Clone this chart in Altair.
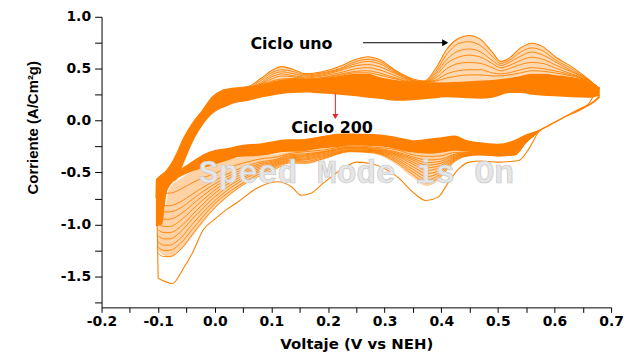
import altair as alt
import pandas as pd

ORANGE = "#FF8000"

# ---------------- data ----------------
# Outermost voltammogram (cycle 1), closed loop in scan order (V vs NEH, A/cm2 g)
cycle1_v = [-0.100, -0.101, -0.102, -0.104, -0.103, -0.085, -0.075, -0.065, -0.057, -0.040,
            -0.022, -0.005, 0.013, 0.030, 0.060, 0.080, 0.100, 0.118, 0.140, 0.160,
            0.190, 0.220, 0.250, 0.270, 0.290, 0.320, 0.350, 0.370, 0.390, 0.410,
            0.430, 0.449, 0.470, 0.490, 0.505, 0.520, 0.540, 0.560, 0.580, 0.600,
            0.630, 0.660, 0.680,
            0.660, 0.620, 0.590, 0.572, 0.555, 0.537, 0.500, 0.470, 0.450, 0.430,
            0.411, 0.394, 0.373, 0.353, 0.323, 0.280, 0.250, 0.230, 0.190, 0.170,
            0.153, 0.136, 0.110, 0.072, 0.042, 0.020, 0.000, -0.020, -0.040, -0.055,
            -0.075, -0.100]
cycle1_i = [-1.52, -1.20, -0.95, -0.75, -0.58, -0.48, -0.40, -0.29, -0.19, -0.03,
            0.096, 0.224, 0.29, 0.31, 0.33, 0.40, 0.48, 0.52, 0.49, 0.45,
            0.47, 0.52, 0.59, 0.615, 0.59, 0.48, 0.40, 0.38, 0.50, 0.69,
            0.79, 0.82, 0.78, 0.66, 0.57, 0.60, 0.70, 0.745, 0.71, 0.62,
            0.52, 0.40, 0.31,
            0.16, 0.04, -0.05, -0.11, -0.27, -0.385, -0.40, -0.39, -0.40, -0.47,
            -0.61, -0.74, -0.77, -0.705, -0.545, -0.42, -0.40, -0.45, -0.61, -0.70,
            -0.72, -0.64, -0.59, -0.66, -0.78, -0.86, -0.95, -1.05, -1.28, -1.42,
            -1.57, -1.52]

# Anodic branch: dense band of late cycles and the fan of early cycles above it
up_v = [0.013, 0.030, 0.060, 0.080, 0.100, 0.118, 0.140, 0.160, 0.190, 0.220,
        0.250, 0.270, 0.290, 0.320, 0.350, 0.370, 0.390, 0.410, 0.430, 0.449,
        0.470, 0.490, 0.505, 0.520, 0.540, 0.560, 0.580, 0.600, 0.630, 0.660, 0.680]
up_fan = [0.29, 0.31, 0.33, 0.40, 0.48, 0.52, 0.49, 0.45, 0.47, 0.52,
          0.59, 0.615, 0.59, 0.48, 0.40, 0.38, 0.50, 0.69, 0.79, 0.82,
          0.78, 0.66, 0.57, 0.60, 0.70, 0.745, 0.71, 0.62, 0.52, 0.40, 0.31]
up_top = [0.29, 0.31, 0.32, 0.34, 0.37, 0.39, 0.40, 0.40, 0.41, 0.43,
          0.45, 0.45, 0.42, 0.39, 0.37, 0.37, 0.37, 0.37, 0.375, 0.38,
          0.385, 0.39, 0.40, 0.41, 0.43, 0.45, 0.45, 0.44, 0.42, 0.38, 0.31]
up_bot = [0.12, 0.16, 0.19, 0.22, 0.24, 0.256, 0.265, 0.27, 0.26, 0.25,
          0.235, 0.22, 0.21, 0.19, 0.195, 0.205, 0.215, 0.224, 0.22, 0.215,
          0.21, 0.22, 0.245, 0.265, 0.265, 0.25, 0.24, 0.235, 0.225, 0.22, 0.24]

# Separate early-cycle traces visible in the anodic fan (outer to inner)
up_cycA = [0.29, 0.30, 0.32, 0.38, 0.46, 0.49, 0.47, 0.44, 0.46, 0.50, 0.57, 0.59, 0.57, 0.47, 0.39, 0.375,
           0.47, 0.64, 0.74, 0.76, 0.72, 0.62, 0.55, 0.58, 0.66, 0.70, 0.67, 0.59, 0.50, 0.39, 0.31]
up_cycB = [0.29, 0.30, 0.32, 0.36, 0.44, 0.47, 0.45, 0.43, 0.45, 0.49, 0.55, 0.57, 0.55, 0.46, 0.385, 0.37,
           0.45, 0.59, 0.67, 0.69, 0.66, 0.58, 0.53, 0.56, 0.62, 0.66, 0.63, 0.57, 0.48, 0.39, 0.31]
up_cycC = [0.29, 0.30, 0.32, 0.35, 0.42, 0.45, 0.43, 0.42, 0.44, 0.48, 0.53, 0.54, 0.52, 0.45, 0.38, 0.37,
           0.43, 0.55, 0.61, 0.63, 0.61, 0.55, 0.51, 0.53, 0.58, 0.61, 0.59, 0.54, 0.47, 0.39, 0.31]
up_cycD = [0.29, 0.30, 0.32, 0.345, 0.40, 0.43, 0.42, 0.41, 0.43, 0.46, 0.50, 0.51, 0.49, 0.43, 0.375, 0.37,
           0.41, 0.50, 0.55, 0.56, 0.55, 0.51, 0.48, 0.50, 0.54, 0.56, 0.55, 0.51, 0.45, 0.385, 0.31]
up_cycE = [0.29, 0.30, 0.32, 0.34, 0.38, 0.40, 0.405, 0.40, 0.415, 0.445, 0.475, 0.48, 0.46, 0.41, 0.37, 0.37,
           0.39, 0.45, 0.48, 0.49, 0.49, 0.46, 0.45, 0.46, 0.49, 0.51, 0.50, 0.48, 0.44, 0.38, 0.31]
up_cycF = [0.29, 0.30, 0.32, 0.34, 0.37, 0.39, 0.40, 0.40, 0.41, 0.435, 0.46, 0.46, 0.44, 0.40, 0.37, 0.37,
           0.38, 0.41, 0.43, 0.44, 0.44, 0.43, 0.43, 0.44, 0.46, 0.48, 0.475, 0.46, 0.43, 0.38, 0.31]

# Left arm (current rising after the reversal at -0.1 V)
arm_v = [-0.104, -0.093, -0.085, -0.075, -0.065, -0.057, -0.040, -0.022, -0.005, 0.005, 0.013, 0.030]
arm_top = [-0.56, -0.52, -0.48, -0.40, -0.29, -0.19, -0.03, 0.096, 0.224, 0.27, 0.29, 0.31]
arm_bot = [-1.02, -1.00, -0.70, -0.60, -0.55, -0.44, -0.22, -0.05, 0.06, 0.10, 0.12, 0.16]

# Cathodic branch: dense band and the fan of early cycles below it
low_v = [-0.100, -0.075, -0.063, -0.045, -0.028, -0.010, 0.030, 0.042, 0.080, 0.130,
         0.148, 0.188, 0.218, 0.241, 0.280, 0.306, 0.340, 0.353, 0.376, 0.400,
         0.423, 0.446, 0.470, 0.499, 0.528, 0.552, 0.572, 0.587, 0.620, 0.645,
         0.669, 0.680]
low_top = [-0.58, -0.55, -0.48, -0.41, -0.35, -0.30, -0.256, -0.24, -0.22, -0.18,
           -0.18, -0.15, -0.128, -0.125, -0.13, -0.144, -0.18, -0.19, -0.176, -0.16,
           -0.144, -0.19, -0.21, -0.224, -0.19, -0.128, -0.09, -0.048, 0.05, 0.12,
           0.19, 0.25]
low_bot = [-0.62, -0.58, -0.545, -0.50, -0.47, -0.44, -0.37, -0.35, -0.34, -0.30,
           -0.30, -0.27, -0.255, -0.24, -0.245, -0.256, -0.30, -0.31, -0.32, -0.31,
           -0.29, -0.30, -0.31, -0.33, -0.32, -0.20, -0.11, -0.06, 0.04, 0.10,
           0.17, 0.22]

lfan_v = [-0.100, -0.090, -0.080, -0.060, -0.040, -0.020, 0.000, 0.020, 0.050, 0.080,
          0.110, 0.130, 0.160, 0.190, 0.240, 0.280, 0.320, 0.350, 0.375, 0.400,
          0.420, 0.440, 0.470, 0.500, 0.530, 0.550, 0.570]
lfan_top = [-1.00, -0.90, -0.65, -0.56, -0.49, -0.45, -0.42, -0.38, -0.35, -0.34,
            -0.32, -0.30, -0.29, -0.27, -0.24, -0.245, -0.27, -0.31, -0.32, -0.31,
            -0.29, -0.30, -0.31, -0.33, -0.32, -0.20, -0.11]
lfan_bot = [-1.25, -1.30, -1.32, -1.25, -1.12, -0.98, -0.85, -0.75, -0.62, -0.52,
            -0.45, -0.40, -0.42, -0.38, -0.30, -0.32, -0.42, -0.55, -0.63, -0.55,
            -0.42, -0.35, -0.33, -0.34, -0.33, -0.21, -0.12]

# Separate early-cycle traces visible in the cathodic fan (outer to inner)
low_cyc1 = [-1.28, -1.31, -1.31, -1.24, -1.10, -0.96, -0.84, -0.74, -0.62, -0.53, -0.46, -0.41, -0.41, -0.37,
            -0.30, -0.31, -0.40, -0.52, -0.60, -0.53, -0.41, -0.35, -0.33, -0.34, -0.33, -0.21, -0.12]
low_cyc2 = [-1.22, -1.25, -1.25, -1.18, -1.05, -0.92, -0.80, -0.71, -0.60, -0.51, -0.445, -0.40, -0.395, -0.36,
            -0.295, -0.305, -0.385, -0.495, -0.57, -0.51, -0.40, -0.345, -0.33, -0.34, -0.33, -0.21, -0.12]
low_cyc3 = [-1.17, -1.20, -1.20, -1.13, -1.00, -0.88, -0.77, -0.68, -0.57, -0.49, -0.43, -0.39, -0.38, -0.35,
            -0.29, -0.30, -0.37, -0.47, -0.54, -0.49, -0.39, -0.34, -0.325, -0.34, -0.33, -0.21, -0.115]
low_cyc4 = [-1.11, -1.14, -1.14, -1.07, -0.95, -0.84, -0.735, -0.65, -0.55, -0.475, -0.42, -0.38, -0.37, -0.34,
            -0.285, -0.295, -0.355, -0.445, -0.51, -0.47, -0.38, -0.335, -0.32, -0.335, -0.325, -0.205, -0.115]
low_cyc5 = [-1.05, -1.08, -1.08, -1.02, -0.91, -0.80, -0.70, -0.62, -0.53, -0.46, -0.41, -0.37, -0.36, -0.33,
            -0.28, -0.29, -0.34, -0.42, -0.48, -0.45, -0.37, -0.33, -0.32, -0.335, -0.325, -0.205, -0.115]
low_cyc6 = [-0.99, -1.02, -1.02, -0.96, -0.86, -0.76, -0.67, -0.595, -0.51, -0.445, -0.40, -0.36, -0.35, -0.32,
            -0.27, -0.285, -0.33, -0.40, -0.455, -0.43, -0.36, -0.325, -0.318, -0.335, -0.325, -0.205, -0.112]
low_cyc7 = [-0.93, -0.95, -0.95, -0.90, -0.81, -0.72, -0.64, -0.57, -0.49, -0.43, -0.39, -0.35, -0.34, -0.31,
            -0.265, -0.28, -0.32, -0.38, -0.43, -0.41, -0.35, -0.32, -0.315, -0.335, -0.325, -0.205, -0.11]
low_cyc8 = [-0.86, -0.88, -0.88, -0.84, -0.76, -0.68, -0.61, -0.545, -0.47, -0.415, -0.38, -0.34, -0.33, -0.305,
            -0.26, -0.272, -0.31, -0.365, -0.405, -0.39, -0.34, -0.315, -0.312, -0.332, -0.322, -0.202, -0.11]
low_cyc9 = [-0.80, -0.82, -0.82, -0.78, -0.71, -0.64, -0.58, -0.52, -0.45, -0.40, -0.37, -0.33, -0.32, -0.30,
            -0.255, -0.265, -0.30, -0.35, -0.38, -0.37, -0.33, -0.31, -0.31, -0.33, -0.32, -0.20, -0.11]
low_cyc10 = [-0.68, -0.70, -0.70, -0.66, -0.60, -0.55, -0.51, -0.46, -0.41, -0.37, -0.35, -0.32, -0.30, -0.285,
             -0.245, -0.255, -0.28, -0.33, -0.345, -0.34, -0.31, -0.305, -0.31, -0.33, -0.32, -0.20, -0.11]

x_ticks = [-0.2, -0.15, -0.1, -0.05, 0.0, 0.05, 0.1, 0.15, 0.2, 0.25, 0.3, 0.35,
           0.4, 0.45, 0.5, 0.55, 0.6, 0.65, 0.7]
y_ticks = [-1.75, -1.5, -1.25, -1.0, -0.75, -0.5, -0.25, 0.0, 0.25, 0.5, 0.75, 1.0]

# ---------------- tables ----------------
def band(v, top, bot):
    return pd.DataFrame({"v": v, "top": top, "bot": bot})

cycle1 = pd.DataFrame({"v": cycle1_v, "i": cycle1_i, "k": list(range(len(cycle1_v)))})
upfan_df = band(up_v, up_fan, up_top)
updense_df = band(up_v, up_top, up_bot)
arm_df = band(arm_v, arm_top, arm_bot)
lowdense_df = band(low_v, low_top, low_bot)
lowfan_df = band(lfan_v, lfan_top, lfan_bot)

trace_rows = []
up_sets = [("A", up_cycA), ("B", up_cycB), ("C", up_cycC), ("D", up_cycD), ("E", up_cycE), ("F", up_cycF)]
for name, vals in up_sets:
    for v, i in zip(up_v, vals):
        trace_rows.append({"c": "up" + name, "v": v, "i": i})
low_sets = [low_cyc1, low_cyc2, low_cyc3, low_cyc4, low_cyc5,
            low_cyc6, low_cyc7, low_cyc8, low_cyc9, low_cyc10]
for n, vals in enumerate(low_sets):
    for v, i in zip(lfan_v, vals):
        trace_rows.append({"c": "low%d" % n, "v": v, "i": i})
traces = pd.DataFrame(trace_rows)

# ---------------- scales & axes ----------------
LABEL_FONT = "DejaVu Sans"
xscale = alt.Scale(domain=[-0.2, 0.7], nice=False, zero=False)
yscale = alt.Scale(domain=[-1.8, 1.0], nice=False, zero=False)

xaxis = alt.Axis(
    values=x_ticks,
    labelExpr="abs(round(datum.value*100)) % 10 == 0 ? (datum.value < -0.001 ? '-' : '') + format(abs(datum.value), '.1f') : ''",
    tickSize=5, tickColor="black", domainColor="black", grid=False,
    labelFont=LABEL_FONT, labelFontWeight="bold", labelFontSize=14, labelColor="black",
    labelPadding=2, titleFont=LABEL_FONT, titleFontWeight="bold", titleFontSize=15,
    titleColor="black", titlePadding=8, labelFlush=False, labelOverlap=False,
)
yaxis = alt.Axis(
    values=y_ticks,
    labelExpr="abs(round(datum.value*100)) % 50 == 0 ? (datum.value < -0.001 ? '-' : '') + format(abs(datum.value), '.1f') : ''",
    tickSize=7, tickColor="black", domainColor="black", grid=False,
    labelFont=LABEL_FONT, labelFontWeight="bold", labelFontSize=14, labelColor="black",
    labelPadding=4, titleFont="Liberation Sans",
    titleFontWeight="bold", titleFontSize=15, titleColor="black",
    titleX=-69, titleY=111, titleAlign="center", titleBaseline="middle", titleAngle=-90,
    labelFlush=False, labelOverlap=False,
)
XT = "Voltaje (V vs NEH)"
YT = "Corriente (A/Cm²g)"

def X(f):
    return alt.X(f + ":Q", scale=xscale, axis=xaxis, title=XT)

def Y(f):
    return alt.Y(f + ":Q", scale=yscale, axis=yaxis, title=YT, stack=None)

def area(df, opacity):
    return alt.Chart(df).mark_area(color=ORANGE, opacity=opacity, interpolate="monotone").encode(
        x=X("v"), y=Y("top"), y2=alt.Y2("bot:Q"))

layers = [
    area(upfan_df, 0.3),
    area(lowfan_df, 0.35),
    alt.Chart(traces).mark_line(color=ORANGE, strokeWidth=0.9, interpolate="monotone").encode(
        x=X("v"), y=Y("i"), detail="c:N"),
    area(updense_df, 1.0),
    area(lowdense_df, 1.0),
    area(arm_df, 1.0),
    alt.Chart(cycle1).mark_line(color=ORANGE, strokeWidth=1.1, interpolate="monotone").encode(
        x=X("v"), y=Y("i"), order=alt.Order("k:Q")),
]

# watermark present in the original picture
wm = pd.DataFrame({"v": [0.25], "i": [-0.51], "t": ["Speed Mode is On"]})
layers.append(alt.Chart(wm).mark_text(font="Liberation Mono", fontSize=33, fontWeight="bold",
                                      fill="#e6e6e6", stroke="#c4c4c4", strokeWidth=0.6,
                                      align="center", baseline="middle").encode(
    x=X("v"), y=Y("i"), text="t:N"))

# annotations
ann = pd.DataFrame({"v": [0.063, 0.135], "i": [0.74, -0.067], "t": ["Ciclo uno", "Ciclo 200"]})
layers.append(alt.Chart(ann).mark_text(font=LABEL_FONT, fontSize=16, fontWeight="bold", color="black",
                                       align="left", baseline="middle").encode(
    x=X("v"), y=Y("i"), text="t:N"))

arrow_b = pd.DataFrame({"v": [0.262], "v2": [0.405], "i": [0.75]})
layers.append(alt.Chart(arrow_b).mark_rule(color="black", strokeWidth=1).encode(
    x=X("v"), x2="v2:Q", y=Y("i")))
head_b = pd.DataFrame({"v": [0.407], "i": [0.75]})
layers.append(alt.Chart(head_b).mark_point(shape="triangle-right", filled=True, color="black",
                                           size=50, opacity=1).encode(x=X("v"), y=Y("i")))

arrow_r = pd.DataFrame({"v": [0.213], "i": [0.26], "i2": [0.05]})
layers.append(alt.Chart(arrow_r).mark_rule(color="#E8202A", strokeWidth=1).encode(
    x=X("v"), y=Y("i"), y2="i2:Q"))
head_r = pd.DataFrame({"v": [0.213], "i": [0.04]})
layers.append(alt.Chart(head_r).mark_point(shape="triangle-down", filled=True, color="#E8202A",
                                           size=35, opacity=1).encode(x=X("v"), y=Y("i")))

chart = alt.layer(*layers).properties(
    width=512, height=292,
    autosize=alt.AutoSizeParams(type="none"),
    padding={"left": 94, "top": 8, "right": 20, "bottom": 46},
    background="white",
).configure_view(stroke=None)

chart.save("out.html", embed_options={"renderer": "svg", "actions": False})
